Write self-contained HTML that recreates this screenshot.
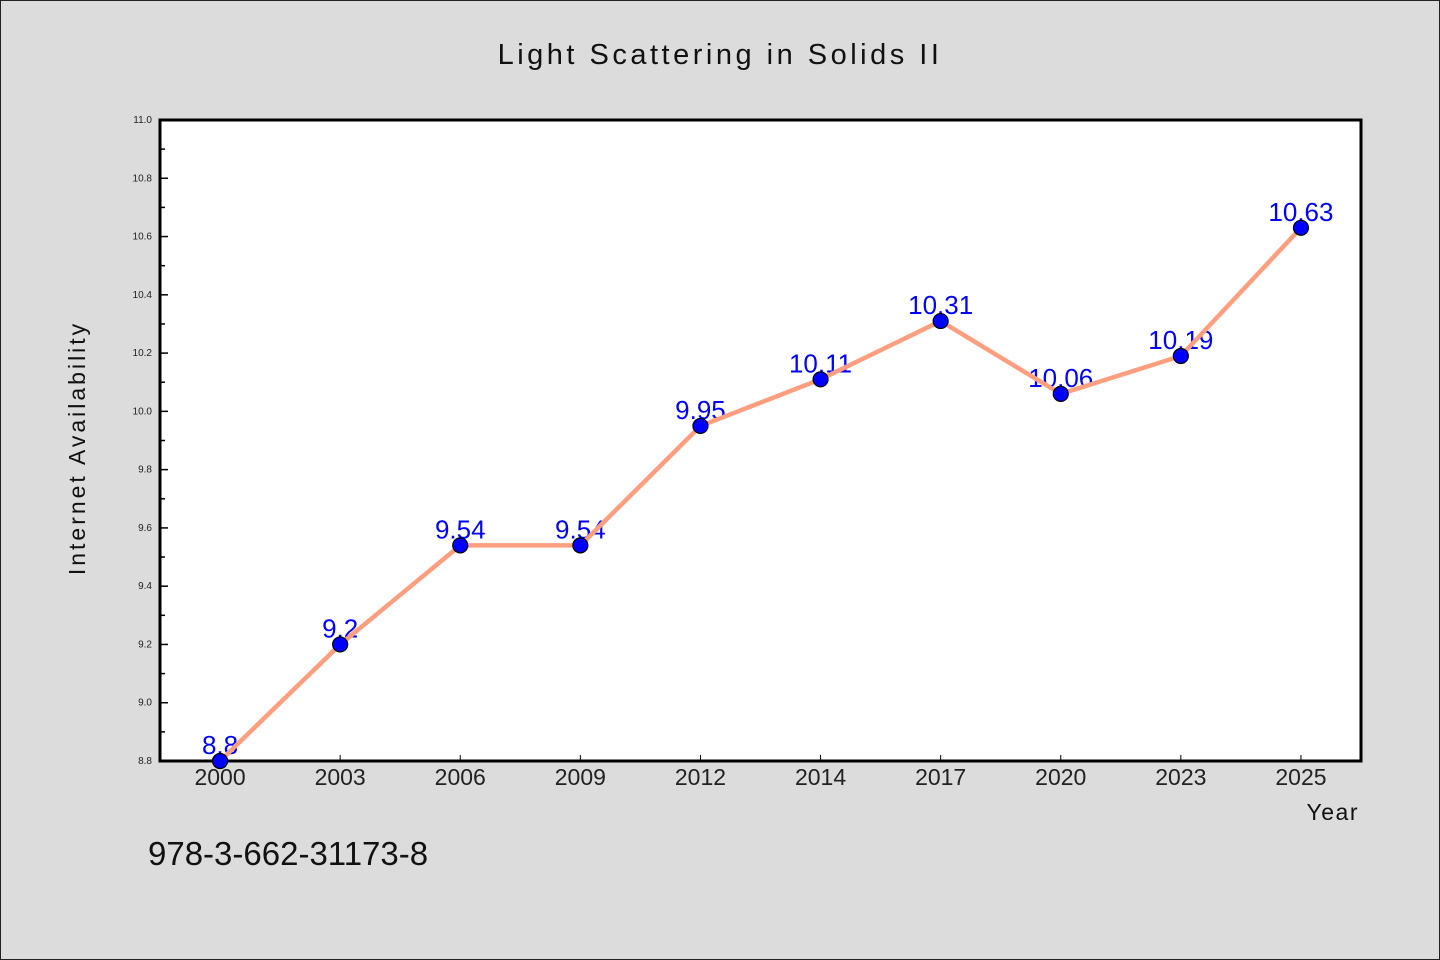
<!DOCTYPE html>
<html><head><meta charset="utf-8"><style>
html,body{margin:0;padding:0;background:#dcdcdc}
svg{display:block}
</style></head><body>
<svg id="chart" width="1440" height="960" xmlns="http://www.w3.org/2000/svg" font-family="'Liberation Sans', 'DejaVu Sans', sans-serif">
<rect x="0.5" y="0.5" width="1439" height="959" fill="#dcdcdc" stroke="#222" stroke-width="1"/>
<text x="720" y="64" text-anchor="middle" font-size="29" letter-spacing="3.5" fill="#111">Light Scattering in Solids II</text>
<rect x="160" y="120" width="1201" height="641" fill="#fff" stroke="#000" stroke-width="3"/>
<g id="yticks"></g><g id="xticks"></g>
<g id="labels"></g>
<g id="series"></g>
<text transform="translate(85,448) rotate(-90)" text-anchor="middle" font-size="23" letter-spacing="3" fill="#111">Internet Availability</text>
<text x="1359" y="820" text-anchor="end" font-size="23" letter-spacing="1.5" fill="#111">Year</text>
<text x="148" y="865" font-size="33" fill="#111">978-3-662-31173-8</text>
</svg>
<script>
const categories = ["2000","2003","2006","2009","2012","2014","2017","2020","2023","2025"];
const values = [8.8, 9.2, 9.54, 9.54, 9.95, 10.11, 10.31, 10.06, 10.19, 10.63];
const valueLabels = ["8.8","9.2","9.54","9.54","9.95","10.11","10.31","10.06","10.19","10.63"];
const yTicks = [8.8, 9.0, 9.2, 9.4, 9.6, 9.8, 10.0, 10.2, 10.4, 10.6, 10.8, 11.0];
const yMin = 8.8, yMax = 11.0;
const L=160, R=1361, T=120, B=761;
const NS="http://www.w3.org/2000/svg";
const band=(R-L)/categories.length;
function xs(i){return L+band*(i+0.5);}
function ys(v){return B-(v-yMin)/(yMax-yMin)*(B-T);}
function mk(tag,attrs,parent){const e=document.createElementNS(NS,tag);for(const k in attrs)e.setAttribute(k,attrs[k]);parent.appendChild(e);return e;}
const yg=document.getElementById('yticks');
yTicks.forEach((t,i)=>{
  const y=ys(t);
  const tk=mk('line',{x1:L,x2:L+8,y1:y,y2:y,stroke:'#000','stroke-width':1.5},yg);
  
  
  const lb=mk('text',{x:L-8,y:y+3,'text-anchor':'end','font-size':10,fill:'#222'},yg);
  
  
  lb.textContent=t.toFixed(1);
  if(i<yTicks.length-1){
    const ym=ys(t+(yTicks[1]-yTicks[0])/2);
    const mt=mk('line',{x1:L,x2:L+5,y1:ym,y2:ym,stroke:'#000','stroke-width':1.5},yg);
    
    
  }
});
const xg=document.getElementById('xticks');
categories.forEach((c,i)=>{
  const x=xs(i);
  const tk=mk('line',{x1:x,x2:x,y1:B,y2:B-6,stroke:'#000','stroke-width':1},xg);
  
  
  const lb=mk('text',{x:x,y:B+24,'text-anchor':'middle','font-size':23,fill:'#222'},xg);
  
  
  lb.textContent=c;
});
const lg=document.getElementById('labels');
values.forEach((v,i)=>{
  const t=mk('text',{x:xs(i),y:ys(v)-7,'text-anchor':'middle','font-size':26,fill:'#0000ff'},lg);
  
  
  t.textContent=valueLabels[i];
});
const sg=document.getElementById('series');
const pl=mk('polyline',{points:values.map((v,i)=>xs(i)+','+ys(v)).join(' '),fill:'none',stroke:'#ff9f7f','stroke-width':4.5,'stroke-linejoin':'round'},sg);


values.forEach((v,i)=>{
  const c=mk('circle',{cx:xs(i),cy:ys(v),r:7.5,fill:'#0000ff',stroke:'#000','stroke-width':1.2},sg);
  
  
});
</script>
</body></html>
